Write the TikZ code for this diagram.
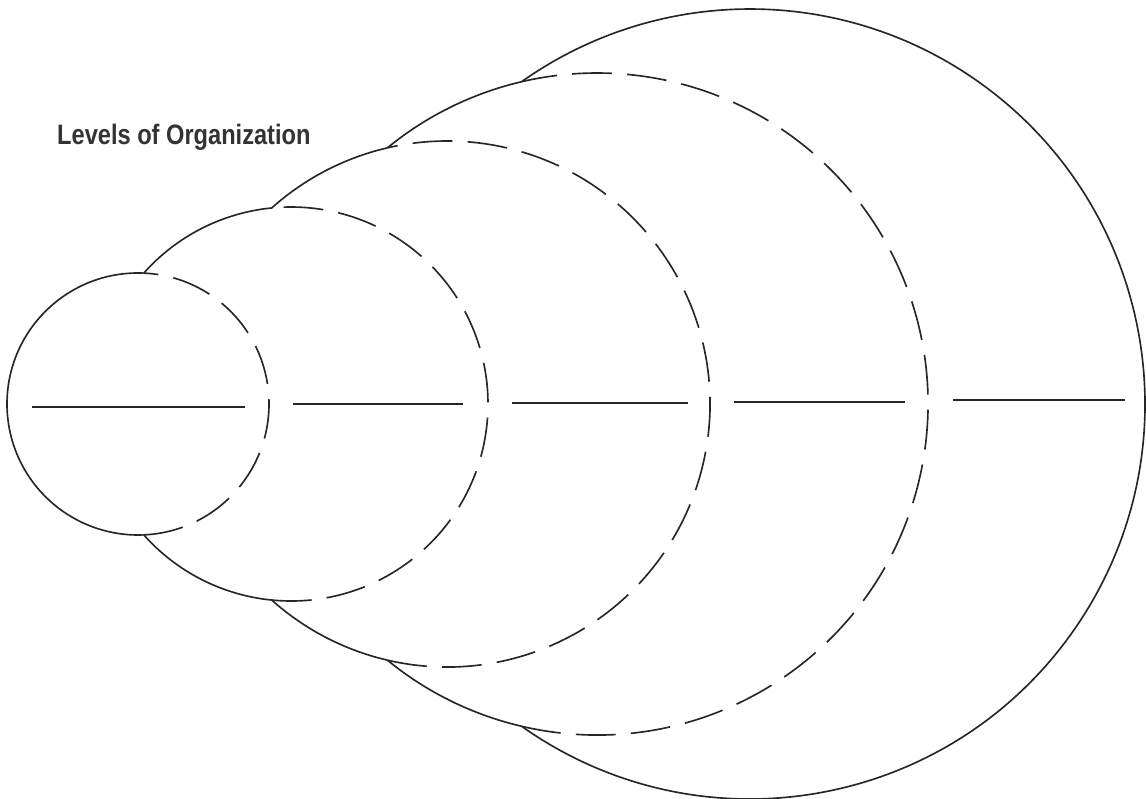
\documentclass[tikz,border=0pt]{standalone}
\usepackage{fontspec}
\newfontfamily\headfont[FakeStretch=0.84]{Liberation Sans}
\tikzset{
    ring/.style={line width=1.4pt, black!85},
    ringhidden/.style={ring, dash pattern=on 34pt off 13pt},
    blank/.style={line width=1.6pt, black!85},
    heading/.style={font=\headfont\bfseries\fontsize{24}{28}\selectfont,
                    text=black!80, inner sep=0pt, anchor=base west},
}

\begin{document}
\begin{tikzpicture}[x=0.03cm, y=0.03cm]
    \useasboundingbox (0,0) rectangle (1146,798);

    % Title
    \node[heading] (title) at (57,653) {Levels of Organization};

    % Circle 1 (smallest)
    \draw[ring] (138,394) ++(87.5:131) arc[start angle=87.5, end angle=272.5, radius=131];
    \draw[ringhidden] (138,394) ++(-87.5:131) arc[start angle=-87.5, end angle=87.5, radius=131];

    % Circle 2
    \draw[ring] (291,394) ++(95.6:197) arc[start angle=95.6, end angle=138.4, radius=197];
    \draw[ring] (291,394) ++(221.6:197) arc[start angle=221.6, end angle=264.4, radius=197];
    \draw[ringhidden] (291,394) ++(-95.6:197) arc[start angle=-95.6, end angle=95.6, radius=197];

    % Circle 3
    \draw[ring] (447,394) ++(103.1:263) arc[start angle=103.1, end angle=131.8, radius=263];
    \draw[ring] (447,394) ++(228.2:263) arc[start angle=228.2, end angle=256.9, radius=263];
    \draw[ringhidden] (447,394) ++(-103.1:263) arc[start angle=-103.1, end angle=103.1, radius=263];

    % Circle 4
    \draw[ring] (597,394) ++(103.2:331) arc[start angle=103.2, end angle=129.3, radius=331];
    \draw[ring] (597,394) ++(230.7:331) arc[start angle=230.7, end angle=256.8, radius=331];
    \draw[ringhidden] (597,394) ++(-103.2:331) arc[start angle=-103.2, end angle=103.2, radius=331];

    % Circle 5 (largest)
    \draw[ring] (750,394) ++(-125.3:395) arc[start angle=-125.3, end angle=125.3, radius=395];

    % Writing lines
    \foreach \xa/\xb/\yy in {32/245/391, 293/463/394, 512/688/395, 734/905/396, 953/1125/398}
        \draw[blank] (\xa,\yy) -- (\xb,\yy);
\end{tikzpicture}
\end{document}
